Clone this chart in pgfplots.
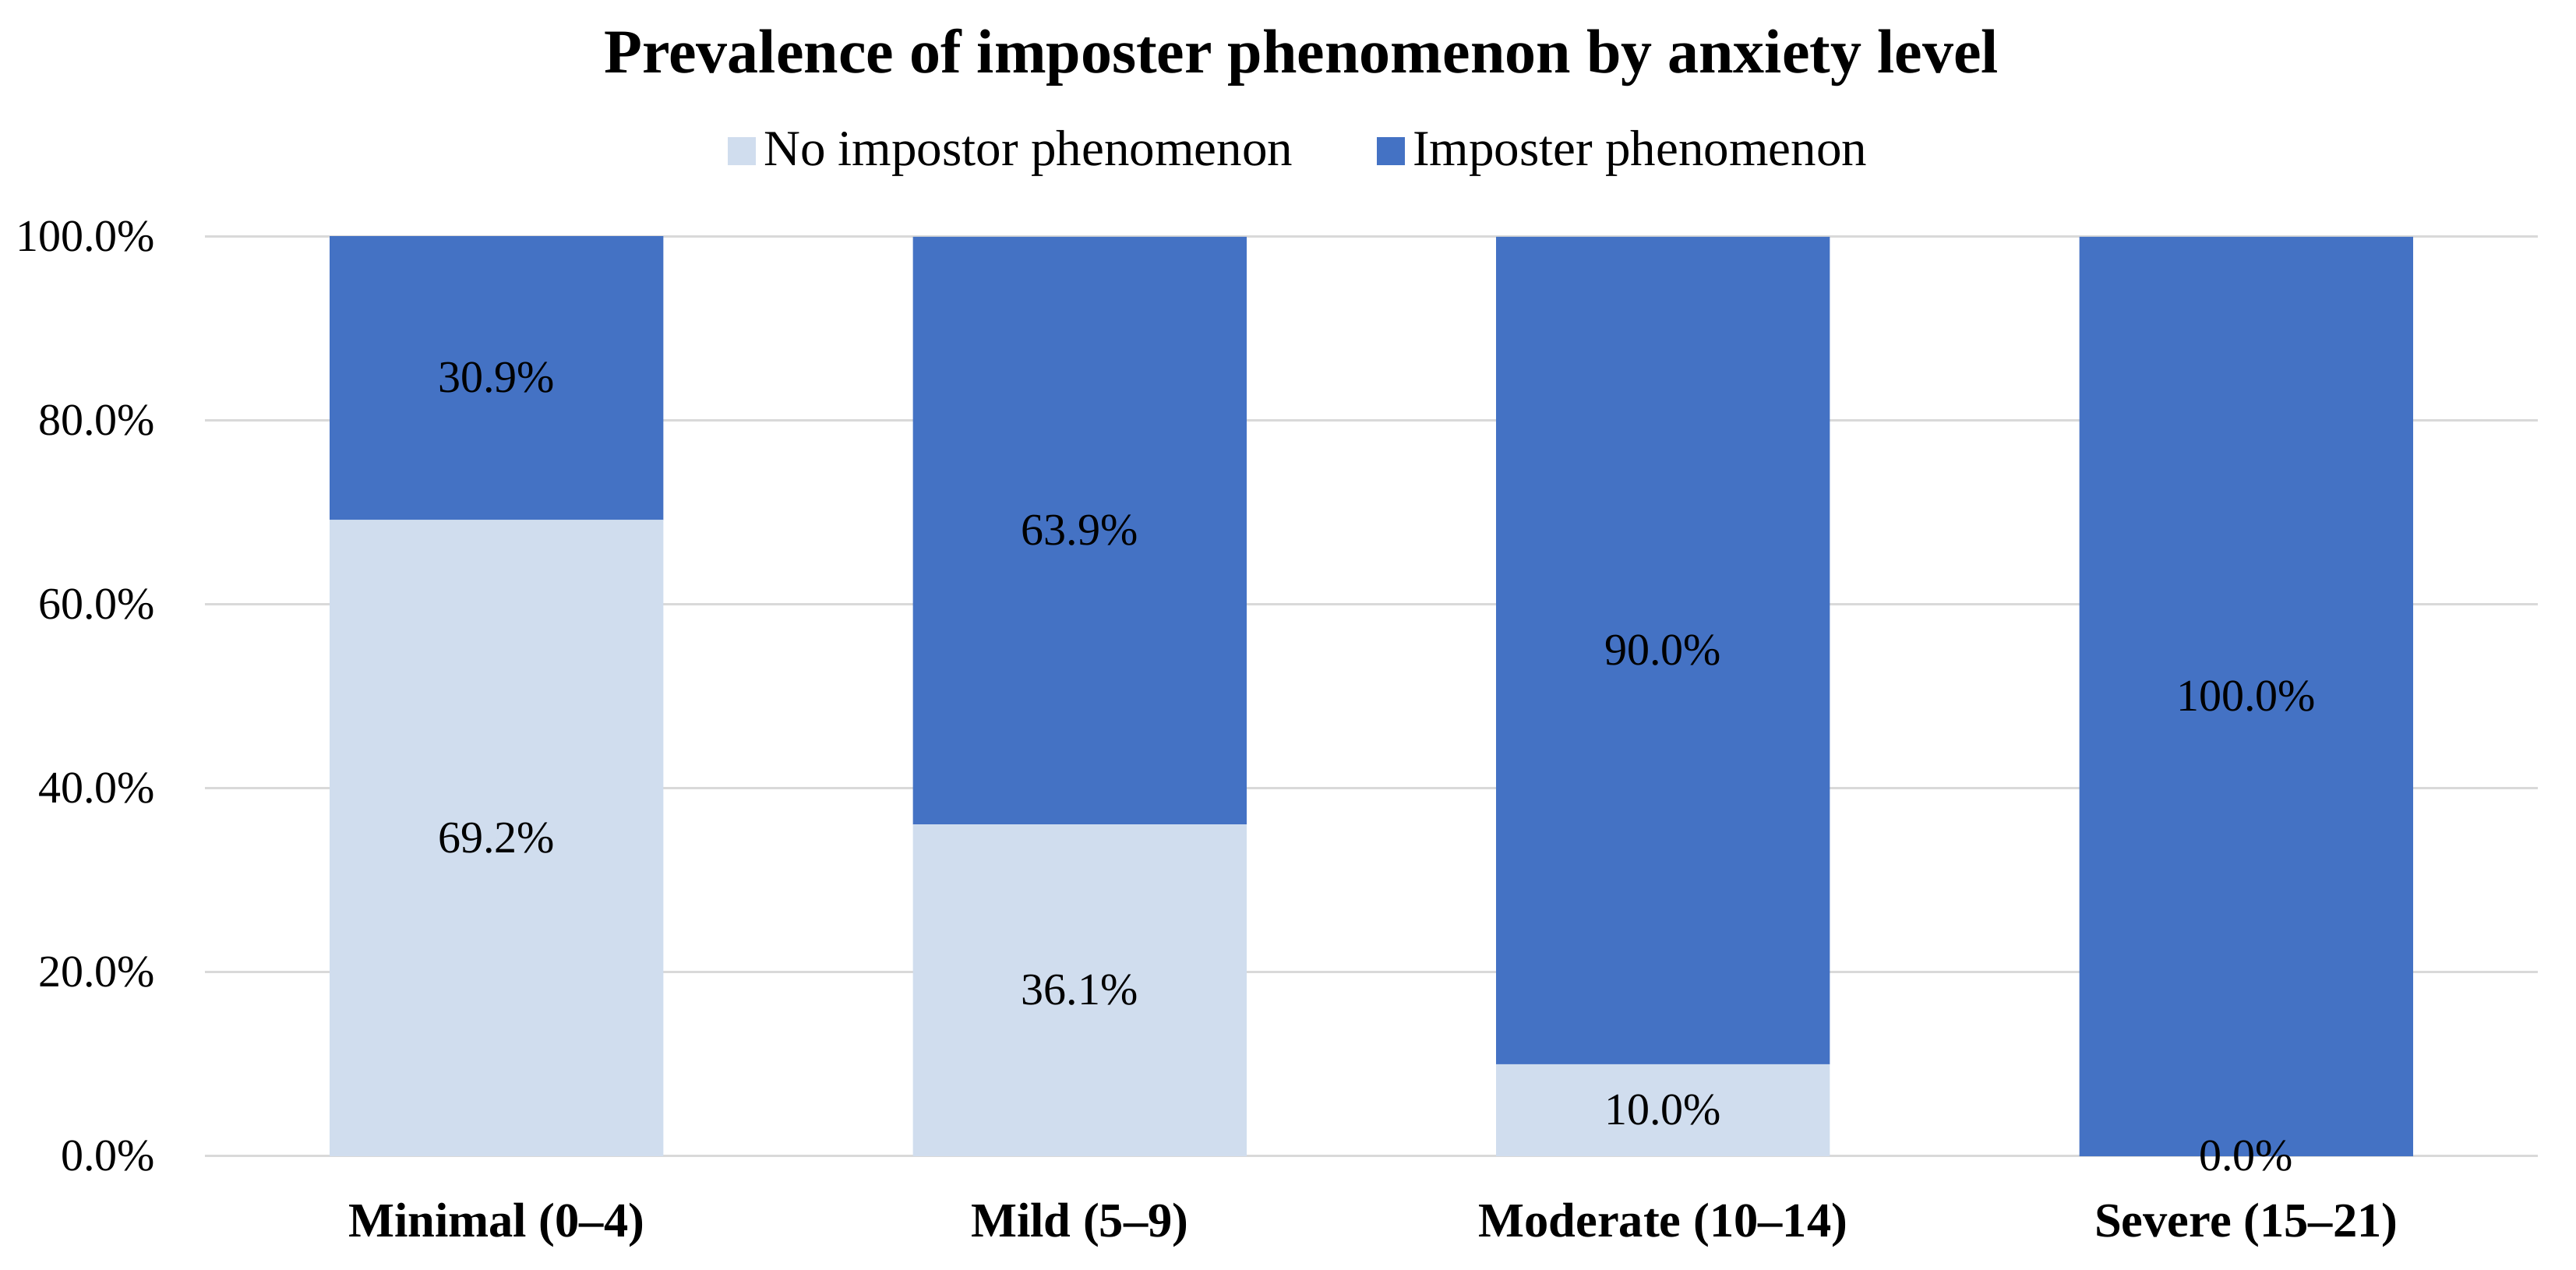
\documentclass[12pt,border=0pt]{standalone}
\usepackage{fontspec}
\setmainfont{Liberation Serif}
\usepackage{pgfplots}
\usepackage{pgfplotstable}
\pgfplotsset{compat=1.18}

\definecolor{lightbar}{HTML}{D0DDEE}
\definecolor{darkbar}{HTML}{4472C4}
\definecolor{gridgray}{HTML}{D9D9D9}

% share of each group (per cent)
\pgfplotstableread{
x  no    imp
0  69.2  30.9
1  36.1  63.9
2  10.0  90.0
3  0.0   100.0
}\anxiety

\pgfplotsset{
    base/.style={
        scale only axis, width=598.8pt, height=236pt,
        xmin=-0.5, xmax=3.5, ymin=0, ymax=100,
    }
}

\begin{document}
\begin{tikzpicture}[font=\fontsize{11.6}{14}\selectfont]
\begin{axis}[
    base,
    ybar stacked, bar width=0.572,
    axis line style={draw=none},
    major tick length=0pt,
    ymajorgrids, grid style={gridgray, line width=0.6pt},
    ytick={0,20,...,100},
    yticklabel={\pgfmathprintnumber[fixed,fixed zerofill,precision=1]{\tick}\%},
    yticklabel style={anchor=east, inner sep=0pt, xshift=-12.6pt},
    xtick={0,1,2,3},
    xticklabels={Minimal (0--4), Mild (5--9), Moderate (10--14), Severe (15--21)},
    xticklabel style={font=\fontsize{12.5}{15}\selectfont\bfseries, anchor=base, yshift=-20.7pt},
    /pgf/number format/assume math mode=true,
    title={Prevalence of imposter phenomenon by anxiety level},
    title style={font=\fontsize{16}{19}\selectfont\bfseries, at={(0.47,1)}, anchor=center, yshift=40pt},
    legend style={draw=none, at={(0.47,1)}, anchor=center, yshift=22pt,
        font=\fontsize{13}{15}\selectfont,
        legend columns=2, nodes={inner xsep=2pt},
        /tikz/every even column/.append style={column sep=19.6pt}},
    legend image code/.code={\fill[#1] (0pt,-3.6pt) rectangle (7.2pt,3.6pt);},
]
\addplot[fill=lightbar, draw=none] table[x=x, y=no] {\anxiety};
\addlegendentry{No impostor phenomenon}
\addplot[fill=darkbar, draw=none] table[x=x, y=imp] {\anxiety};
\addlegendentry{Imposter phenomenon}
\end{axis}

% data labels, centred in each segment
\begin{axis}[
    base, hide axis, clip=false,
    /pgf/number format/assume math mode=true,
    nodes near coords={\pgfmathprintnumber[fixed,fixed zerofill,precision=1]{\pgfplotspointmeta}\%},
    nodes near coords style={anchor=center, text=black},
]
\addplot[only marks, mark=*, mark size=0pt, mark options={draw=none, fill=none}, point meta=explicit]
    table[x=x, y expr=\thisrow{no}/2, meta=no] {\anxiety};
\addplot[only marks, mark=*, mark size=0pt, mark options={draw=none, fill=none}, point meta=explicit]
    table[x=x, y expr=\thisrow{no}+\thisrow{imp}/2, meta=imp] {\anxiety};
\end{axis}

\pgfresetboundingbox
\path ([shift={(-52.6pt,-29.2pt)}]current axis.south west) rectangle ([shift={(9.8pt,60.8pt)}]current axis.north east);
\end{tikzpicture}
\end{document}
